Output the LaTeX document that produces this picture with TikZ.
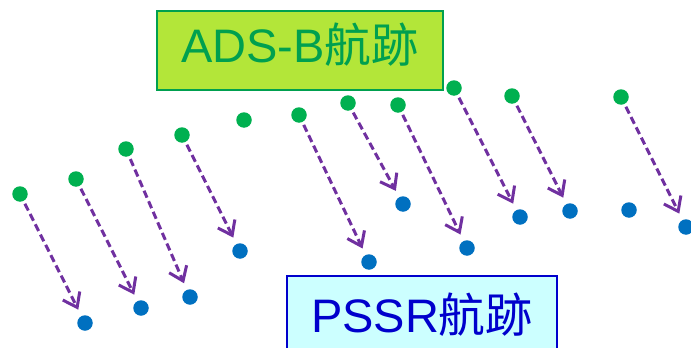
\documentclass[tikz,border=0pt]{standalone}
\usepackage{fontspec}
\setmainfont{Liberation Sans}
\newfontfamily\cjk{Noto Sans CJK TC}
\usetikzlibrary{arrows.meta}
\definecolor{adsbfill}{HTML}{B3E639}
\definecolor{adsbline}{HTML}{00A04F}
\definecolor{pssrfill}{HTML}{CCFFFF}
\definecolor{pssrline}{HTML}{0000CC}
\definecolor{adsbdot}{HTML}{00B050}
\definecolor{pssrdot}{HTML}{0070C0}
\definecolor{shift}{HTML}{7030A0}
\tikzset{
  adsb/.style={circle,inner sep=0pt,minimum size=15.5pt,fill=adsbdot},
  pssr/.style={circle,inner sep=0pt,minimum size=15.5pt,fill=pssrdot},
  track/.style={draw=shift,line width=3pt,dash pattern=on 7.5pt off 4pt,
    -{Straight Barb[length=13pt,width=19pt]},shorten <=3pt,shorten >=7pt},
  tag/.style={line width=1.8pt,inner xsep=0pt,inner ysep=15pt,font=\fontsize{47}{52}\selectfont}
}
\begin{document}
\begin{tikzpicture}[x=1pt,y=-1pt]
\clip (0,0) rectangle (691,348);
\node[tag,draw=adsbline,fill=adsbfill,text=adsbline,minimum width=286pt,text height=37pt,text depth=12pt,anchor=north] (adsbtag) at (300,10) {ADS-B{\cjk 航跡}};
\node[tag,draw=pssrline,fill=pssrfill,text=pssrline,minimum width=270pt,text height=32pt,text depth=40pt,inner ysep=25pt,anchor=north] (pssrtag) at (422,275) {PSSR{\cjk 航跡}};
% ADS-B track
\node[adsb] (g1) at (20,194) {}; \node[adsb] (g2) at (76,179) {}; \node[adsb] (g3) at (126,149) {}; \node[adsb] (g4) at (182,135) {};
\node[adsb] (g5) at (244,120) {}; \node[adsb] (g6) at (299,115) {}; \node[adsb] (g7) at (348,103) {}; \node[adsb] (g8) at (398,105) {};
\node[adsb] (g9) at (454,88) {}; \node[adsb] (g10) at (512,96) {}; \node[adsb] (g11) at (621,97) {};
% PSSR track
\node[pssr] (b1) at (85,323) {}; \node[pssr] (b2) at (141,308) {}; \node[pssr] (b3) at (190,297) {}; \node[pssr] (b4) at (240,251) {};
\node[pssr] (b5) at (369,262) {}; \node[pssr] (b6) at (403,204) {}; \node[pssr] (b7) at (467,248) {}; \node[pssr] (b8) at (520,217) {};
\node[pssr] (b9) at (570,211) {}; \node[pssr] (b10) at (629,210) {}; \node[pssr] (b11) at (686,227) {};
\draw[track] (g1) -- (b1); \draw[track] (g2) -- (b2); \draw[track] (g3) -- (b3); \draw[track] (g4) -- (b4);
\draw[track] (g6) -- (b5); \draw[track] (g7) -- (b6); \draw[track] (g8) -- (b7); \draw[track] (g9) -- (b8);
\draw[track] (g10) -- (b9); \draw[track] (g11) -- (b11);
\end{tikzpicture}
\end{document}
